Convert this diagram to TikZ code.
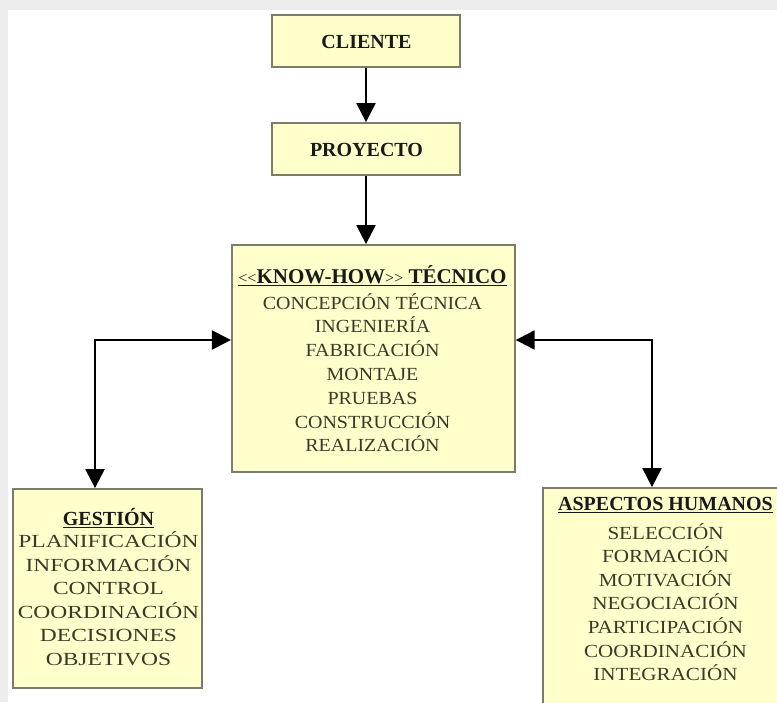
\documentclass[tikz,border=0pt]{standalone}
\usepackage{fontspec}
\setmainfont{Liberation Serif}
\newfontfamily\itemsT[FakeStretch=1.08]{Liberation Serif}
\newfontfamily\itemsG[FakeStretch=1.27]{Liberation Serif}
\newfontfamily\itemsA[FakeStretch=1.14]{Liberation Serif}
\usetikzlibrary{arrows.meta}
\definecolor{boxfill}{HTML}{FFFFCC}
\definecolor{boxline}{HTML}{7C7C6C}
\definecolor{itemtext}{HTML}{3A3A2A}
\definecolor{frame}{HTML}{EDEDED}
\tikzset{
  box/.style={draw=boxline, fill=boxfill, line width=1.8pt, inner sep=0pt},
  head/.style={font=\fontsize{20}{24}\selectfont\bfseries, text=black!90, inner sep=0pt},
  list/.style={align=center, inner sep=0pt, text=itemtext},
  link/.style={line width=2.3pt, {Triangle[length=19pt,width=19pt]}-{Triangle[length=19pt,width=19pt]}},
  onelink/.style={line width=2.3pt, -{Triangle[length=19pt,width=19pt]}},
}
% underlined bold heading of a list box, in the unstretched family
\newcommand{\ttl}[2][20]{{\rmfamily\fontsize{#1}{24}\selectfont\bfseries\color{black!90}\underline{#2}}}
\newcommand{\smallang}[1]{{\mdseries\fontsize{16}{16}\selectfont #1}}
\begin{document}
\begin{tikzpicture}[x=1pt,y=-1pt]
  \useasboundingbox (0,0) rectangle (777,702);
  \clip (0,0) rectangle (777,702);
  % page frame
  \fill[white] (0,0) rectangle (777,702);
  \fill[frame] (0,0) rectangle (777,10);
  \fill[frame] (0,0) rectangle (8,702);

  % boxes
  \node[box, minimum width=188pt, minimum height=52pt] (clibox) at (366,41) {};
  \node[box, minimum width=188pt, minimum height=52pt] (probox) at (366,149) {};
  \node[box, minimum width=283pt, minimum height=227pt] (tecbox) at (373.3,358.5) {};
  \node[box, minimum width=189pt, minimum height=199pt] (gesbox) at (107.5,588.5) {};
  \node[box, minimum width=247pt, minimum height=232pt] (aspbox) at (666.5,604) {};

  % labels
  \node[head] (clitxt) at (366.5,41.5) {CLIENTE};
  \node[head] (protxt) at (366.5,150) {PROYECTO};

  \node[list, anchor=north, font=\itemsT\fontsize{18.5}{23.8}\selectfont] (tectxt) at (372.5,265)
    {\ttl[21]{\smallang{\textless{}\textless}KNOW-HOW\smallang{\textgreater{}\textgreater} TÉCNICO}\\[2pt]
     CONCEPCIÓN TÉCNICA\\ INGENIERÍA\\ FABRICACIÓN\\ MONTAJE\\ PRUEBAS\\ CONSTRUCCIÓN\\ REALIZACIÓN};

  \node[list, anchor=north, font=\itemsG\fontsize{18.5}{23.5}\selectfont] (gestxt) at (108.5,508)
    {\ttl{GESTIÓN}\\[-1pt]
     PLANIFICACIÓN\\ INFORMACIÓN\\ CONTROL\\ COORDINACIÓN\\ DECISIONES\\ OBJETIVOS};

  \node[list, anchor=north, font=\itemsA\fontsize{18.5}{23.6}\selectfont] (asptxt) at (665.5,497)
    {\ttl{ASPECTOS HUMANOS}\\[5pt]
     SELECCIÓN\\ FORMACIÓN\\ MOTIVACIÓN\\ NEGOCIACIÓN\\ PARTICIPACIÓN\\ COORDINACIÓN\\ INTEGRACIÓN};

  % connectors
  \coordinate (lcorner) at (95,340);
  \coordinate (rcorner) at (652,340);
  \draw[onelink] (clibox.south) -- (probox.north);
  \draw[onelink] (probox.south) -- (probox.south |- tecbox.north);
  \draw[link] (lcorner |- gesbox.north) -- (lcorner) -- (lcorner -| tecbox.west);
  \draw[link] (rcorner |- aspbox.north) -- (rcorner) -- (rcorner -| tecbox.east);
\end{tikzpicture}
\end{document}
